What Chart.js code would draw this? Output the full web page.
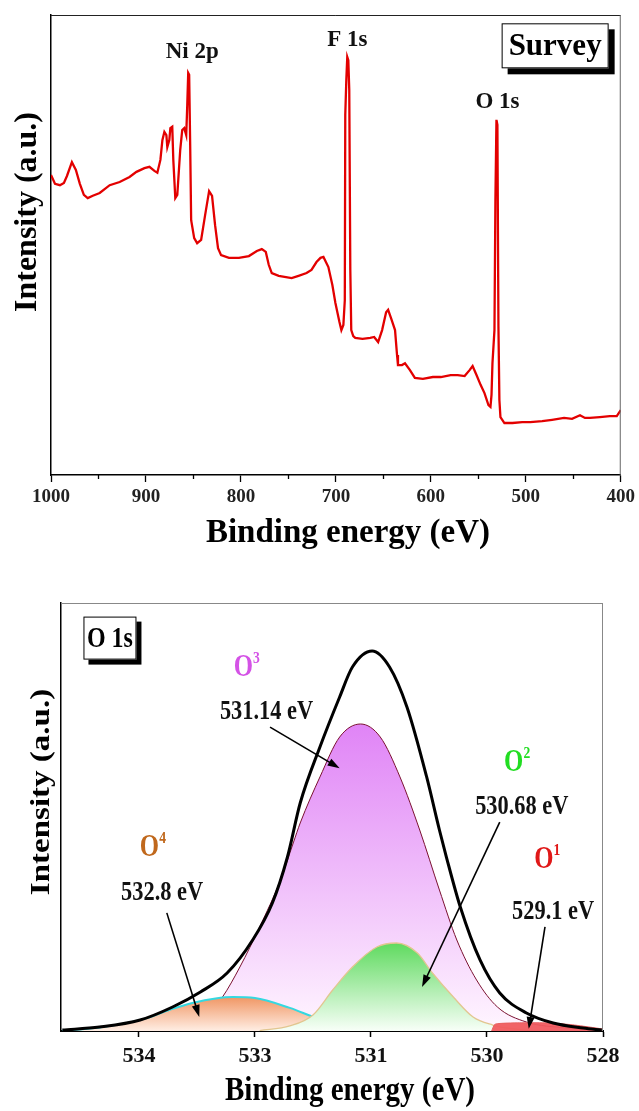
<!DOCTYPE html>
<html><head><meta charset="utf-8">
<script src="https://cdn.jsdelivr.net/npm/chart.js@4.4.1/dist/chart.umd.min.js"></script>
<style>
html,body{margin:0;padding:0;background:#fff;width:639px;height:1111px;overflow:hidden}
.box{position:absolute;left:0}
</style></head><body>
<div class="box" style="top:0"><canvas id="c1" width="639" height="560"></canvas></div>
<div class="box" style="top:560px"><canvas id="c2" width="639" height="551"></canvas></div>
<script>
// ---------- Survey spectrum ----------
const surveyEnergy = [1000,995.8,990.6,986.4,983.2,978.0,973.8,969.6,965.4,961.3,956.0,948.7,938.2,927.7,917.3,910.0,901.6,896.3,891.1,888.0,884.8,882.7,880.6,878.5,877.5,875.4,874.3,872.3,871.2,869.1,867.0,863.9,861.8,859.7,857.6,856.5,855.5,854.5,853.4,852.4,849.2,846.1,841.9,837.7,833.5,830.4,827.2,824.1,820.9,812.6,802.1,791.6,783.2,778.0,773.8,770.7,767.5,760.2,746.6,739.3,730.9,725.7,720.4,716.2,713.1,707.9,703.7,700.5,696.3,694.2,692.1,690.6,690.1,689.0,688.0,686.9,685.9,684.8,683.8,681.7,679.6,672.0,663.8,659.7,655.5,651.3,647.1,645.0,641.9,637.7,635.6,634.6,630.4,627.2,622.0,616.8,608.4,597.9,589.5,579.1,571.7,564.4,559.2,556.0,551.8,547.6,543.5,539.3,537.2,536.1,535.1,533.0,532.0,530.9,529.9,528.8,527.8,526.7,522.5,514.1,503.7,495.3,482.7,472.3,459.7,451.3,442.9,437.7,432.5,422.0,411.5,404.2,400.0];
const surveyIntensity = [65.2,63.3,63.0,63.5,65.0,68.0,66.3,63.3,60.9,60.2,60.7,61.3,63.0,63.7,64.8,65.9,66.7,67.0,66.1,65.7,68.5,72.8,74.6,73.9,71.3,72.8,75.4,75.7,68.5,60.2,60.9,70.7,75.0,75.4,73.9,80.4,87.4,87.0,71.3,55.4,51.5,50.4,51.1,56.5,61.7,60.7,54.3,49.3,47.8,47.2,47.2,47.6,48.7,49.1,48.5,45.7,43.9,43.3,42.8,43.3,43.9,44.6,46.3,47.2,47.4,45.2,41.3,37.4,33.3,31.5,32.6,38.0,78.3,85.9,90.9,90.2,83.7,44.6,31.5,30.2,29.8,29.6,29.8,30.0,28.9,31.5,35.4,35.9,34.1,31.5,26.1,23.9,23.9,24.3,22.8,21.1,20.9,21.3,21.3,21.7,21.7,21.5,22.8,23.7,21.7,19.6,17.8,15.2,14.8,17.4,24.3,31.5,59.8,77.2,76.1,32.2,16.3,12.6,11.3,11.3,11.5,11.5,11.7,12.0,12.4,12.2,13.0,12.4,12.4,12.6,12.8,12.8,14.1];
const surveyTicks = [1000,900,800,700,600,500,400];
const surveyMinorTicks = [950,850,750,650,550,450];
const surveyPeakLabels = ['Ni 2p','F 1s','O 1s'];
const surveyPeakEnergy = [851.3,688.0,529.8];
const surveyPeakLevel = [92.0,94.6,81.1];

// ---------- O 1s high resolution ----------
const o1sTickValues = [534,533,532,531,530];
const o1sTickLabels = ['534','533','531','530','528'];
const envelopeEnergy = [534.66,534.34,533.99,533.71,533.47,533.24,533.02,532.85,532.72,532.61,532.44,532.27,532.16,531.99,531.84,531.69,531.52,531.41,531.35,531.23,531.06,530.89,530.66,530.43,530.17,530.01];
const envelopeIntensity = [0.23,0.93,2.57,5.61,9.11,13.55,21.26,29.91,40.65,53.27,66.36,78.04,85.05,88.79,85.05,75.70,59.35,46.96,40.65,28.97,16.59,8.88,4.21,1.87,0.70,0.23];
const o3Energy = [533.91,533.82,533.69,533.56,533.47,533.39,533.28,533.13,532.96,532.78,532.67,532.61,532.44,532.27,532.09,531.92,531.75,531.58,531.41,531.26,531.09,530.91,530.66,530.31,530.03];
const o3Intensity = [0,0.23,0.70,1.40,2.57,4.44,7.94,14.95,24.30,35.28,43.93,48.60,59.35,68.69,71.73,68.69,59.35,46.96,32.94,21.26,11.92,5.61,2.10,0.70,0.23];
const o4Energy = [534.66,534.34,533.93,533.73,533.53,533.34,533.19,533.00,532.70,532.44,532.18,531.92,531.66];
const o4Intensity = [0.1,0.8,3.0,5.0,6.6,7.6,7.94,7.7,5.4,2.8,1.4,0.5,0];
const o2Energy = [532.96,532.70,532.50,532.33,532.16,531.95,531.78,531.60,531.47,531.29,531.12,530.95,530.83,530.63];
const o2Intensity = [0.1,1.17,3.74,9.58,14.95,19.63,20.56,18.22,13.55,7.94,3.27,1.40,0.70,0.1];
const o1Energy = [530.96,530.93,530.72,530.50,530.28,530.11,530.01];
const o1Intensity = [0,1.6,1.9,1.9,1.5,0.9,0.5];
const componentNames = ['O','O','O','O'];
const componentSup = ['3','2','1','4'];
const componentBE = ['531.14 eV','530.68 eV','529.1 eV','532.8 eV'];

const SERIF = '"Liberation Serif","DejaVu Serif",serif';
const pts = (xs, ys) => xs.map((x, i) => ({x, y: ys[i]}));

function drawLabel(ctx, o, sx){
  ctx.save();
  ctx.translate(o.px, o.py);
  ctx.scale(sx, 1);
  if (o.rot) ctx.rotate(o.rot);
  ctx.fillStyle = o.color || '#111';
  ctx.textBaseline = 'middle';
  const f = 'bold ' + o.size + 'px ' + SERIF;
  ctx.font = f;
  if (o.sup) {
    const w1 = ctx.measureText(o.text).width;
    const fs = 'bold ' + Math.round(o.size * 0.56) + 'px ' + SERIF;
    ctx.font = fs;
    const w2 = ctx.measureText(o.sup).width;
    const st = -(w1 + w2) / 2;
    ctx.textAlign = 'left';
    ctx.font = f; ctx.fillText(o.text, st, 0);
    ctx.font = fs; ctx.fillText(o.sup, st + w1, -o.size * 0.3);
  } else {
    ctx.textAlign = 'center';
    ctx.fillText(o.text, 0, 0);
  }
  ctx.restore();
}
function drawBox(ctx, cx, cy, w, h, off, text, size, sx){
  ctx.save();
  ctx.fillStyle = '#000';
  ctx.fillRect(cx - w/2 + off, cy - h/2 + off, w, h);
  ctx.fillStyle = '#fff';
  ctx.fillRect(cx - w/2, cy - h/2, w, h);
  ctx.strokeStyle = '#000'; ctx.lineWidth = 1;
  ctx.strokeRect(cx - w/2 + 0.5, cy - h/2 + 0.5, w - 1, h - 1);
  ctx.restore();
  drawLabel(ctx, {px: cx, py: cy + 1, text, size, color: '#000'}, sx);
}
function drawArrow(ctx, x1, y1, x2, y2){
  const a = Math.atan2(y2 - y1, x2 - x1), L = 12, W = 4;
  const c = Math.cos(a), s = Math.sin(a);
  ctx.save();
  ctx.strokeStyle = '#000'; ctx.fillStyle = '#000'; ctx.lineWidth = 1.6;
  ctx.beginPath(); ctx.moveTo(x1, y1); ctx.lineTo(x2 - L*0.8*c, y2 - L*0.8*s); ctx.stroke();
  ctx.beginPath();
  ctx.moveTo(x2, y2);
  ctx.lineTo(x2 - L*c + W*s, y2 - L*s - W*c);
  ctx.lineTo(x2 - L*c - W*s, y2 - L*s + W*c);
  ctx.closePath(); ctx.fill();
  ctx.restore();
}

function overlay(cfg){
  return {
    id: 'overlay',
    afterDraw(chart){
      const ctx = chart.ctx, a = chart.chartArea, xs = chart.scales.x, ys = chart.scales.y;
      const P = (x, y) => [xs.getPixelForValue(x), ys.getPixelForValue(y)];
      ctx.save();
      ctx.lineWidth = 1;
      ctx.strokeStyle = cfg.topColor;
      ctx.beginPath(); ctx.moveTo(a.left, a.top + 0.5); ctx.lineTo(a.right, a.top + 0.5); ctx.stroke();
      ctx.strokeStyle = cfg.rightColor;
      ctx.beginPath(); ctx.moveTo(a.right - 0.5, a.top); ctx.lineTo(a.right - 0.5, a.bottom); ctx.stroke();
      ctx.strokeStyle = '#000'; ctx.lineWidth = 1.3;
      (cfg.minor || []).forEach(v => {
        const x = Math.round(xs.getPixelForValue(v)) + 0.5;
        ctx.beginPath(); ctx.moveTo(x, a.bottom); ctx.lineTo(x, a.bottom + 4); ctx.stroke();
      });
      ctx.restore();
      (cfg.arrows || []).forEach(r => {
        const [x1, y1] = P(r[0], r[1]); const [x2, y2] = P(r[2], r[3]);
        drawArrow(ctx, x1, y1, x2, y2);
      });
      (cfg.labels || []).forEach(o => {
        const [x, y] = P(o.x, o.y);
        drawLabel(ctx, Object.assign({}, o, {px: x, py: y}), cfg.sx);
      });
      (cfg.boxes || []).forEach(b => {
        const [x, y] = P(b.x, b.y);
        drawBox(ctx, x, y, b.w, b.h, b.off, b.text, b.size, cfg.sx);
      });
      (cfg.titles || []).forEach(t => drawLabel(ctx, Object.assign({color: '#000'}, t), t.sx || 1));
    }
  };
}

function gradFill(top, bottom, values){
  const peak = Math.max(...values);
  return (c) => {
    const ch = c.chart;
    if (!ch.chartArea) return top;
    const y0 = ch.scales.y.getPixelForValue(peak), y1 = ch.scales.y.getPixelForValue(0);
    const g = ch.ctx.createLinearGradient(0, y0, 0, y1);
    g.addColorStop(0, top); g.addColorStop(1, bottom);
    return g;
  };
}

// ---------- Chart 1 ----------
new Chart(document.getElementById('c1'), {
  type: 'line',
  data: {datasets: [{
    data: pts(surveyEnergy, surveyIntensity),
    borderColor: '#e30000', borderWidth: 2.3, pointRadius: 0, tension: 0, fill: false
  }]},
  options: {
    responsive: false, animation: false, devicePixelRatio: 1,
    layout: {padding: {left: 0, top: 15, right: 15, bottom: 0}},
    plugins: {legend: {display: false}, tooltip: {enabled: false}},
    scales: {
      x: {
        type: 'linear', reverse: true, min: 400, max: 1000,
        afterBuildTicks: s => { s.ticks = surveyTicks.map(v => ({value: v})); },
        afterFit: s => { s.height = 85; },
        grid: {drawOnChartArea: false, drawTicks: true, tickLength: 7, color: '#000', tickWidth: 1.3},
        border: {display: true, color: '#000', width: 1.5},
        ticks: {callback: v => String(v), font: {family: SERIF, weight: 'bold', size: 19}, color: '#222', padding: 4, maxRotation: 0, autoSkip: false}
      },
      y: {
        min: 0, max: 100,
        afterFit: s => { s.width = 51; },
        ticks: {display: false}, grid: {display: false},
        border: {display: true, color: '#000', width: 1.5}
      }
    }
  },
  plugins: [overlay({
    topColor: '#222', rightColor: '#666', sx: 1, minor: surveyMinorTicks,
    labels: surveyPeakLabels.map((t, i) => ({x: surveyPeakEnergy[i], y: surveyPeakLevel[i], text: t, size: 23, color: '#111'})),
    boxes: [{x: 469.1, y: 93.3, w: 107, h: 45, off: 6, text: 'Survey', size: 31}],
    titles: [
      {px: 348, py: 533, text: 'Binding energy (eV)', size: 33},
      {px: 28, py: 212, text: 'Intensity (a.u.)', size: 32, rot: -Math.PI/2}
    ]
  })]
});

// ---------- Chart 2 ----------
const compColors = ['#d452e6', '#22dd22', '#e01818', '#c0681c'];
const compLabelPos = [[533.07, 84.8], [530.74, 62.6], [530.48, 40.0], [533.88, 42.8]];
const compBEPos = [[532.90, 74.5], [530.70, 52.3], [530.43, 27.8], [533.80, 32.2]];
const compArrows = [[532.87, 71.0, 532.27, 61.4], [530.89, 48.8, 531.56, 10.3], [530.50, 24.3, 530.64, 0.5], [533.76, 27.6, 533.48, 3.3]];
const o2Labels = [];
componentNames.forEach((n, i) => {
  o2Labels.push({x: compLabelPos[i][0], y: compLabelPos[i][1], text: n, sup: componentSup[i], size: 31, color: compColors[i]});
  o2Labels.push({x: compBEPos[i][0], y: compBEPos[i][1], text: componentBE[i], size: 28, color: '#111'});
});

new Chart(document.getElementById('c2'), {
  type: 'line',
  data: {datasets: [
    {data: pts(envelopeEnergy, envelopeIntensity), borderColor: '#000', borderWidth: 3, pointRadius: 0, cubicInterpolationMode: 'monotone', fill: false, order: 0},
    {data: pts(o1Energy, o1Intensity), borderColor: '#e86060', borderWidth: 1, pointRadius: 0, tension: 0.2, fill: 'origin', backgroundColor: 'rgba(240,90,95,0.95)', order: 1},
    {data: pts(o2Energy, o2Intensity), borderColor: '#e2c690', borderWidth: 1.3, pointRadius: 0, cubicInterpolationMode: 'monotone', fill: 'origin', backgroundColor: gradFill('rgb(95,218,95)', 'rgb(248,255,248)', o2Intensity), order: 2},
    {data: pts(o4Energy, o4Intensity), borderColor: '#35d8e0', borderWidth: 2, pointRadius: 0, cubicInterpolationMode: 'monotone', fill: 'origin', backgroundColor: gradFill('rgb(240,150,100)', 'rgb(255,238,228)', o4Intensity), order: 3},
    {data: pts(o3Energy, o3Intensity), borderColor: '#7a1030', borderWidth: 1, pointRadius: 0, cubicInterpolationMode: 'monotone', fill: 'origin', backgroundColor: gradFill('rgb(224,132,246)', 'rgb(255,246,255)', o3Intensity), order: 4}
  ]},
  options: {
    responsive: false, animation: false, devicePixelRatio: 1,
    layout: {padding: {left: 0, top: 43, right: 36, bottom: 0}},
    plugins: {legend: {display: false}, tooltip: {enabled: false}},
    scales: {
      x: {
        type: 'linear', reverse: true, min: 530, max: 534.672,
        afterBuildTicks: s => { s.ticks = o1sTickValues.map(v => ({value: v})); },
        afterFit: s => { s.height = 80; },
        grid: {drawOnChartArea: false, drawTicks: true, tickLength: 6, color: '#000', tickWidth: 1.5},
        border: {display: true, color: '#000', width: 2},
        ticks: {
          callback: v => o1sTickLabels[o1sTickValues.indexOf(v)],
          font: {family: SERIF, weight: 'bold', size: 22}, color: '#111', padding: 6, maxRotation: 0, autoSkip: false
        }
      },
      y: {
        min: 0, max: 100,
        afterFit: s => { s.width = 61; },
        ticks: {display: false}, grid: {display: false},
        border: {display: true, color: '#000', width: 1.5}
      }
    }
  },
  plugins: [overlay({
    topColor: '#888', rightColor: '#888', sx: 0.8,
    labels: o2Labels,
    arrows: compArrows,
    boxes: [{x: 534.25, y: 91.8, w: 53, h: 43, off: 5, text: 'O 1s', size: 30}],
    titles: [
      {px: 350, py: 531, text: 'Binding energy (eV)', size: 33, sx: 0.88},
      {px: 42, py: 232, text: 'Intensity (a.u.)', size: 33, rot: -Math.PI/2, sx: 0.85}
    ]
  })]
});
</script>
</body></html>
